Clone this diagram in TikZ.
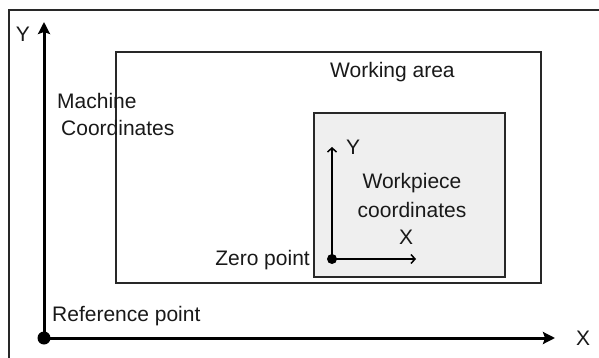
\documentclass[tikz,border=0pt]{standalone}
\usepackage{fontspec}
\setmainfont{Liberation Sans}
\usetikzlibrary{arrows.meta}
\definecolor{framedark}{RGB}{40,40,40}
\definecolor{piecegray}{RGB}{239,239,239}
\definecolor{textdark}{RGB}{25,25,25}

\begin{document}
\begin{tikzpicture}[
    x=1pt, y=-1pt,
    mainaxis/.style={
        -{Stealth[length=12pt, width=12pt, inset=2pt]},
        line width=3pt,
        draw=black
    },
    pieceaxis/.style={
        -{Straight Barb[length=4pt, width=9pt]},
        line width=1.5pt,
        draw=black
    },
    lbl/.style={
        inner sep=0pt,
        text=textdark,
        font=\fontsize{21}{29}\selectfont
    }
]
\useasboundingbox (0,0) rectangle (599,358);

% =================== Frame ===================
\draw[framedark, line width=1.5pt] (9,358) -- (9,10) -- (599,10);

% =================== Working area ===================
\draw[framedark, line width=1.5pt] (116,52) rectangle (541,283);
\node[lbl, anchor=west] (workarea) at (330,72) {Working area};

% =================== Workpiece ===================
\draw[framedark, fill=piecegray, line width=2pt] (314,113) rectangle (505,277);
\node[lbl, align=center] (piece) at (412,195) {Workpiece\\coordinates};

% =================== Machine coordinates ===================
\coordinate (refpt) at (44,338);
\coordinate (ytip) at (44,22);
\coordinate (xtip) at (555,338);
\draw[mainaxis] (refpt) -- (ytip);
\draw[mainaxis] (refpt) -- (xtip);
\fill (refpt) circle[radius=6.5pt];
\node[lbl] (ylabel) at (23,34) {Y};
\node[lbl] (xlabel) at (583,338) {X};
\node[lbl, anchor=west] (machine) at (57,101) {Machine};
\node[lbl, anchor=west] (coords) at (61,128) {Coordinates};
\node[lbl, anchor=west] (refname) at (52,316) {Reference point};

% =================== Workpiece coordinates ===================
\coordinate (zeropt) at (332,259);
\coordinate (ptip) at (332,147);
\coordinate (qtip) at (416,259);
\draw[pieceaxis] (zeropt) -- (ptip);
\draw[pieceaxis] (zeropt) -- (qtip);
\fill (zeropt) circle[radius=5pt];
\node[lbl] (pylabel) at (353,147) {Y};
\node[lbl] (pxlabel) at (406,237) {X};
\node[lbl, anchor=east] (zeroname) at (310,260) {Zero point};

\end{tikzpicture}
\end{document}
